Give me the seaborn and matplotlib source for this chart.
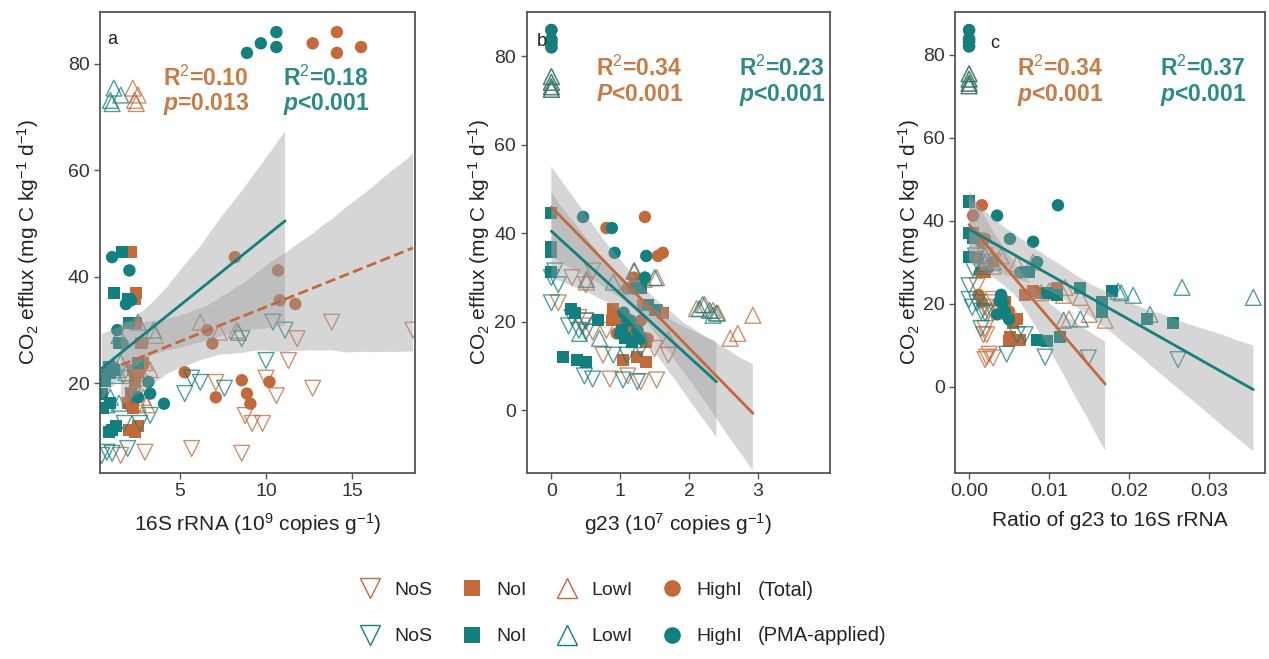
import matplotlib
matplotlib.use('Agg')
import matplotlib.pyplot as plt
from matplotlib.lines import Line2D
import numpy as np
import pandas as pd
import seaborn as sns

sns.set_theme(style='white')
plt.rcParams['font.family'] = ['Liberation Sans', 'DejaVu Sans']
plt.rcParams['mathtext.fontset'] = 'custom'
plt.rcParams['mathtext.rm'] = 'Liberation Sans'
plt.rcParams['mathtext.it'] = 'Liberation Sans:italic:bold'
plt.rcParams['mathtext.bf'] = 'Liberation Sans:bold'

BROWN = '#C4693A'
TEAL = '#12807E'
BROWN_TXT = '#C97B45'
TEAL_TXT = '#2A8B88'

treatments = ['NoS', 'NoI', 'LowI', 'HighI']

# CO2 efflux, shared by Total and PMA-applied samples
nos_y = [31.5, 30.0, 28.4, 24.3, 21.0, 20.2, 19.1, 18.1, 17.7, 14.0, 12.5, 12.5, 7.8, 7.1, 6.9, 6.5]
noi_y = [44.6, 37.0, 35.8, 31.3, 27.6, 23.8, 23.0, 22.6, 22.0, 20.4, 18.1, 16.3, 15.4, 12.0, 11.3, 10.9]
low_y = [72.5, 73.1, 74.1, 75.4, 31.5, 30.0, 29.6, 29.0, 23.9, 23.0, 22.6, 22.0, 21.5, 17.4, 16.3, 16.0]
high_y = [82.0, 83.1, 83.8, 85.9, 43.7, 41.2, 35.6, 34.9, 30.0, 27.5, 22.1, 20.3, 20.6, 18.1, 17.4, 16.2]

# 16S rRNA (10^9 copies g-1)
a_total_nos = [13.8, 18.5, 11.8, 11.3, 10.0, 7.1, 12.7, 2.9, 10.6, 8.8, 9.2, 9.8, 5.7, 3.0, 8.6, 1.6]
a_pma_nos = [10.4, 11.1, 8.6, 10.0, 5.7, 6.2, 7.6, 5.3, 2.3, 3.3, 1.8, 2.7, 2.0, 0.8, 1.1, 0.5]
a_total_noi = [2.2, 2.5, 2.4, 2.5, 2.8, 2.9, 2.7, 2.3, 2.6, 2.4, 2.2, 2.0, 2.3, 2.6, 2.1, 2.4]
a_pma_noi = [1.7, 1.2, 2.0, 2.1, 1.5, 2.6, 0.9, 1.2, 1.0, 0.7, 0.5, 1.0, 0.6, 1.3, 1.1, 0.9]
a_total_low = [2.5, 2.4, 2.6, 2.3, 6.2, 8.3, 7.3, 3.6, 3.0, 2.5, 3.3, 2.8, 2.2, 2.9, 2.6, 3.1]
a_pma_low = [1.1, 1.0, 1.6, 1.2, 2.6, 3.5, 8.4, 1.5, 1.6, 1.2, 1.4, 1.9, 1.3, 1.0, 1.5, 0.8]
a_total_high = [14.1, 15.5, 12.7, 14.1, 8.2, 10.7, 10.8, 11.7, 6.6, 6.9, 5.3, 10.2, 8.6, 8.9, 7.1, 9.1]
a_pma_high = [8.9, 10.6, 9.7, 10.6, 1.1, 2.1, 2.2, 1.9, 1.4, 1.7, 0.8, 3.2, 0.6, 3.3, 2.6, 4.1]

# g23 (10^7 copies g-1)
b_total_nos = [0.60, 0.30, 0.50, 0.10, 0.40, 0.50, 0.45, 0.80, 0.60, 1.50, 1.70, 0.75, 1.11, 0.85, 1.53, 1.30]
b_pma_nos = [0.05, 0.00, 0.10, 0.00, 0.30, 0.50, 0.25, 0.40, 0.50, 1.30, 1.10, 0.90, 0.48, 0.60, 1.04, 1.25]
b_total_noi = [0, 0, 0, 0, 1.17, 1.33, 0.90, 1.53, 1.62, 0.88, 1.20, 1.30, 1.38, 1.24, 1.04, 1.38]
b_pma_noi = [0, 0, 0, 0, 1.30, 1.40, 0.29, 1.50, 0.34, 0.68, 1.02, 1.07, 1.17, 0.17, 0.37, 0.51]
b_total_low = [0, 0, 0, 0, 1.21, 1.53, 1.35, 0.51, 2.23, 2.11, 2.35, 2.42, 2.93, 2.71, 2.60, 1.70]
b_pma_low = [0, 0, 0, 0, 1.20, 1.50, 0.51, 0.90, 2.20, 2.15, 2.30, 2.40, 2.35, 0.41, 0.70, 1.20]
b_total_high = [0, 0, 0, 0, 1.36, 0.80, 1.62, 1.55, 1.20, 1.10, 0.92, 1.30, 1.00, 1.25, 0.95, 1.40]
b_pma_high = [0, 0, 0, 0, 0.46, 0.88, 0.92, 1.38, 1.36, 1.20, 1.05, 1.15, 1.10, 1.25, 1.00, 1.30]

# ratio of g23 to 16S rRNA
c_total_nos = [0.0020, 0.0030, 0.0025, 0.0010, 0.0030, 0.0028, 0.0020, 0.0024, 0.0030, 0.0020, 0.0022, 0.0018, 0.0025, 0.0022, 0.0030, 0.0020]
c_pma_nos = [0.0008, 0.0010, 0.0005, 0.0000, 0.0000, 0.0010, 0.0004, 0.0015, 0.0020, 0.0015, 0.0070, 0.0060, 0.0047, 0.0095, 0.0149, 0.0261]
c_total_noi = [0, 0.0005, 0.0010, 0.0010, 0.0020, 0.0110, 0.0080, 0.0090, 0.0070, 0.0045, 0.0043, 0.0060, 0.0055, 0.0051, 0.0064, 0.0050]
c_pma_noi = [0, 0, 0.0005, 0, 0.0075, 0.0139, 0.0179, 0.0097, 0.0110, 0.0166, 0.0166, 0.0222, 0.0255, 0.0114, 0.0085, 0.0097]
c_total_low = [0, 0, 0, 0, 0.0040, 0.0080, 0.0060, 0.0030, 0.0120, 0.0100, 0.0090, 0.0118, 0.0139, 0.0150, 0.0125, 0.0170]
c_pma_low = [0, 0, 0, 0, 0.0020, 0.0030, 0.0020, 0.0015, 0.0266, 0.0186, 0.0190, 0.0205, 0.0355, 0.0226, 0.0139, 0.0118]
c_total_high = [0, 0, 0, 0, 0.0016, 0.0005, 0.0020, 0.0015, 0.0030, 0.0014, 0.0012, 0.0016, 0.0045, 0.0050, 0.0045, 0.0060]
c_pma_high = [0, 0, 0, 0, 0.0111, 0.0035, 0.0051, 0.0080, 0.0085, 0.0064, 0.0040, 0.0042, 0.0038, 0.0045, 0.0035, 0.0050]

ys = {'NoS': nos_y, 'NoI': noi_y, 'LowI': low_y, 'HighI': high_y}
xs = {
    ('Total', 'NoS'): (a_total_nos, b_total_nos, c_total_nos),
    ('PMA', 'NoS'): (a_pma_nos, b_pma_nos, c_pma_nos),
    ('Total', 'NoI'): (a_total_noi, b_total_noi, c_total_noi),
    ('PMA', 'NoI'): (a_pma_noi, b_pma_noi, c_pma_noi),
    ('Total', 'LowI'): (a_total_low, b_total_low, c_total_low),
    ('PMA', 'LowI'): (a_pma_low, b_pma_low, c_pma_low),
    ('Total', 'HighI'): (a_total_high, b_total_high, c_total_high),
    ('PMA', 'HighI'): (a_pma_high, b_pma_high, c_pma_high),
}

frames = []
for (src, t), (xa, xb, xc) in xs.items():
    frames.append(pd.DataFrame({'source': src, 'treat': t, 'y': ys[t],
                                'rrna': xa, 'g23': xb, 'ratio': xc}))
df = pd.concat(frames, ignore_index=True)

colors = {'Total': BROWN, 'PMA': TEAL}
markers = {'NoS': 'v', 'NoI': 's', 'LowI': '^', 'HighI': 'o'}
sizes = {'NoS': 130, 'NoI': 75, 'LowI': 130, 'HighI': 80}
filled = {'NoS': False, 'NoI': True, 'LowI': False, 'HighI': True}

fig = plt.figure(figsize=(12.69, 6.59), dpi=100)
ax_a = fig.add_axes([0.0788, 0.283, 0.248, 0.699])
ax_b = fig.add_axes([0.415, 0.283, 0.239, 0.699])
ax_c = fig.add_axes([0.7526, 0.283, 0.2445, 0.699])

panels = [
    (ax_a, 'rrna', 'a', (0.022, 0.93), ['--', '-'],
     [r'R$^2$=0.10', r'$\mathit{p}$=0.013', r'R$^2$=0.18', r'$\mathit{p}$<0.001'],
     (0.20, 0.58), (0.856, 0.80), (0.4, 18.6), [5, 10, 15], ['5', '10', '15'],
     (3.3, 89.7), [20, 40, 60, 80], r'16S rRNA (10$^{9}$ copies g$^{-1}$)', 19),
    (ax_b, 'g23', 'b', (0.033, 0.925), ['-', '-'],
     [r'R$^2$=0.34', r'$\mathit{P}$<0.001', r'R$^2$=0.23', r'$\mathit{p}$<0.001'],
     (0.23, 0.70), (0.878, 0.82), (-0.36, 4.05), [0, 1, 2, 3], ['0', '1', '2', '3'],
     (-14, 90), [0, 20, 40, 60, 80], r'g23 (10$^{7}$ copies g$^{-1}$)', 2),
    (ax_c, 'ratio', 'c', (0.113, 0.922), ['-', '-'],
     [r'R$^2$=0.34', r'$\mathit{p}$<0.001', r'R$^2$=0.37', r'$\mathit{p}$<0.001'],
     (0.20, 0.66), (0.878, 0.82), (-0.00175, 0.037), [0, 0.01, 0.02, 0.03],
     ['0.00', '0.01', '0.02', '0.03'], (-20.7, 90.3), [0, 20, 40, 60, 80],
     'Ratio of g23 to 16S rRNA', 0.5),
]

for (ax, xcol, tag, tagpos, styles, stats, txpos, typos, xlim, xt, xtl,
     ylim, yt, xlabel, ypad) in panels:
    for src in ['Total', 'PMA']:
        for t in treatments:
            sub = df[(df.source == src) & (df.treat == t)]
            if filled[t]:
                sns.scatterplot(data=sub, x=xcol, y='y', ax=ax, marker=markers[t],
                                s=sizes[t], color=colors[src], edgecolor='none', linewidth=0)
            else:
                sns.scatterplot(data=sub, x=xcol, y='y', ax=ax, marker=markers[t],
                                s=sizes[t], facecolor='none', edgecolor=colors[src],
                                linewidth=1.0, alpha=0.75)
    for src, ls in zip(['Total', 'PMA'], styles):
        sub = df[df.source == src]
        sns.regplot(data=sub, x=xcol, y='y', ax=ax, scatter=False, ci=95, seed=3,
                    color=colors[src], line_kws={'linestyle': ls, 'linewidth': 2.0})
        band = ax.collections[-1]
        band.set_facecolor('#9a9a9a')
        band.set_edgecolor('none')
        band.set_alpha(0.4)

    ax.text(tagpos[0], tagpos[1], tag, transform=ax.transAxes, fontsize=13, color='#222222')
    for (k, col, xp) in [(0, BROWN_TXT, txpos[0]), (2, TEAL_TXT, txpos[1])]:
        ax.text(xp, typos[0], stats[k], transform=ax.transAxes, fontsize=16.5,
                fontweight='bold', color=col, va='center')
        ax.text(xp, typos[1], stats[k + 1], transform=ax.transAxes, fontsize=16.5,
                fontweight='bold', color=col, va='center')

    ax.set_xlim(*xlim)
    ax.set_ylim(*ylim)
    ax.set_xticks(xt)
    ax.set_xticklabels(xtl)
    ax.set_yticks(yt)
    ax.set_xlabel(xlabel, fontsize=15, color='#222222', labelpad=8)
    ax.set_ylabel(r'CO$_{2}$ efflux (mg C kg$^{-1}$ d$^{-1}$)', fontsize=15,
                  color='#222222', labelpad=ypad)
    ax.tick_params(axis='both', which='both', bottom=True, left=True, length=4, width=1,
                   color='#555555', labelsize=14, labelcolor='#333333', direction='out')
    for sp in ax.spines.values():
        sp.set_color('#555555')
        sp.set_linewidth(1.3)

# legend: two rows (Total / PMA-applied)
def mk(m, c, fill):
    return Line2D([], [], linestyle='none', marker=m, markersize=15 if m in ('v', '^') else 12,
                  markerfacecolor=c if fill else 'none', markeredgecolor=c,
                  markeredgewidth=1.0 if not fill else 0)

handles, labels = [], []
for t in treatments:
    for src in ['Total', 'PMA']:
        handles.append(mk(markers[t], colors[src], filled[t]))
        labels.append(t)
fig.legend(handles, labels, ncol=4, loc='center left', bbox_to_anchor=(0.2685, 0.0695),
           frameon=False, fontsize=14, labelspacing=1.5, columnspacing=1.45,
           handlelength=1.2, handletextpad=0.65)
fig.text(0.5973, 0.1047, '(Total)', fontsize=14.5, color='#222222', va='center')
fig.text(0.5973, 0.0364, '(PMA-applied)', fontsize=14.5, color='#222222', va='center')

fig.savefig('out.png', dpi=100)
